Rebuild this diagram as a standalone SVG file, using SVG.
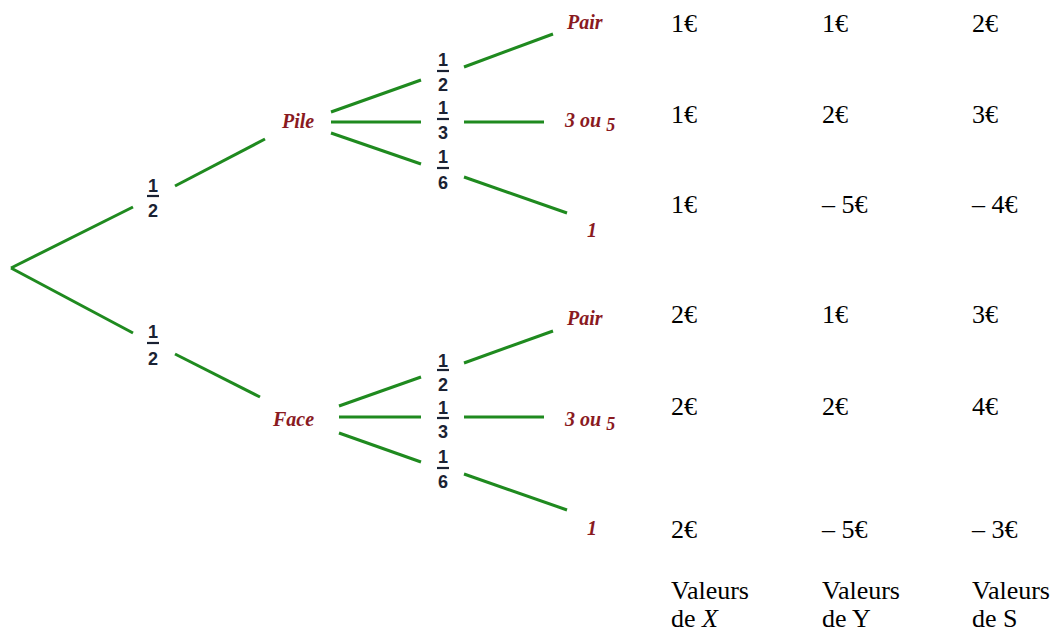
<svg xmlns="http://www.w3.org/2000/svg" width="1059" height="633" viewBox="0 0 1059 633">
<style>
.br{stroke:#1f8a1f;stroke-width:3;stroke-linecap:butt;fill:none}
.lbl{font-family:"Liberation Serif","Times New Roman",serif;font-weight:bold;font-style:italic;font-size:20px;fill:#8a1a1f}
.fr{font-family:"Liberation Sans",Arial,sans-serif;font-weight:bold;font-size:18px;fill:#1a2233;text-anchor:middle}
.bar{stroke:#1a2233;stroke-width:2.2}
.val{font-family:"Liberation Serif","Times New Roman",serif;font-size:26px;fill:#000}
</style>
<rect width="1059" height="633" fill="#fff"/>
<g id="connectors">
<line class="br" x1="11" y1="268" x2="133" y2="207"/>
<line class="br" x1="175" y1="186" x2="265" y2="139"/>
<line class="br" x1="11" y1="268" x2="133" y2="333"/>
<line class="br" x1="175" y1="354" x2="260" y2="397"/>
<line class="br" x1="331" y1="112" x2="421" y2="80"/>
<line class="br" x1="331" y1="122" x2="421" y2="122"/>
<line class="br" x1="331" y1="133" x2="421" y2="164"/>
<line class="br" x1="464" y1="67" x2="553" y2="34"/>
<line class="br" x1="464" y1="122" x2="544" y2="122"/>
<line class="br" x1="464" y1="177" x2="567" y2="213"/>
<line class="br" x1="339" y1="406" x2="421" y2="377"/>
<line class="br" x1="339" y1="417" x2="421" y2="417"/>
<line class="br" x1="339" y1="433" x2="421" y2="462"/>
<line class="br" x1="464" y1="363" x2="553" y2="331"/>
<line class="br" x1="464" y1="417" x2="544" y2="417"/>
<line class="br" x1="464" y1="474" x2="567" y2="510"/>
</g>
<g id="prob-root-up"><text class="fr" x="153" y="192">1</text><line class="bar" x1="147" y1="196" x2="159" y2="196"/><text class="fr" x="153" y="217">2</text></g>
<g id="prob-root-down"><text class="fr" x="153" y="338">1</text><line class="bar" x1="147" y1="343" x2="159" y2="343"/><text class="fr" x="153" y="365">2</text></g>
<g id="node-pile"><text class="lbl" x="282" y="128">Pile</text></g>
<g id="node-face"><text class="lbl" x="273" y="426">Face</text></g>
<g id="prob-pile-pair"><text class="fr" x="443" y="66">1</text><line class="bar" x1="437" y1="71" x2="449" y2="71"/><text class="fr" x="443" y="91">2</text></g>
<g id="prob-pile-35"><text class="fr" x="443" y="114">1</text><line class="bar" x1="437" y1="119" x2="449" y2="119"/><text class="fr" x="443" y="139">3</text></g>
<g id="prob-pile-1"><text class="fr" x="443" y="163">1</text><line class="bar" x1="437" y1="168" x2="449" y2="168"/><text class="fr" x="443" y="189">6</text></g>
<g id="prob-face-pair"><text class="fr" x="443" y="367">1</text><line class="bar" x1="437" y1="370" x2="449" y2="370"/><text class="fr" x="443" y="391">2</text></g>
<g id="prob-face-35"><text class="fr" x="443" y="414">1</text><line class="bar" x1="437" y1="418" x2="449" y2="418"/><text class="fr" x="443" y="438">3</text></g>
<g id="prob-face-1"><text class="fr" x="443" y="463">1</text><line class="bar" x1="437" y1="468" x2="449" y2="468"/><text class="fr" x="443" y="488">6</text></g>
<g id="node-pile-pair"><text class="lbl" x="567" y="29">Pair</text></g>
<g id="node-pile-35"><text class="lbl" x="565" y="127">3 ou <tspan dy="4" font-size="18">5</tspan></text></g>
<g id="node-pile-1"><text class="lbl" x="587" y="237">1</text></g>
<g id="node-face-pair"><text class="lbl" x="567" y="325">Pair</text></g>
<g id="node-face-35"><text class="lbl" x="565" y="426">3 ou <tspan dy="4" font-size="18">5</tspan></text></g>
<g id="node-face-1"><text class="lbl" x="587" y="535">1</text></g>
<g id="values">
<text class="val" x="671" y="32">1€</text><text class="val" x="822" y="32">1€</text><text class="val" x="972" y="32">2€</text>
<text class="val" x="671" y="123">1€</text><text class="val" x="822" y="123">2€</text><text class="val" x="972" y="123">3€</text>
<text class="val" x="671" y="213">1€</text><text class="val" x="822" y="213">– 5€</text><text class="val" x="972" y="213">– 4€</text>
<text class="val" x="671" y="323">2€</text><text class="val" x="822" y="323">1€</text><text class="val" x="972" y="323">3€</text>
<text class="val" x="671" y="415">2€</text><text class="val" x="822" y="415">2€</text><text class="val" x="972" y="415">4€</text>
<text class="val" x="671" y="538">2€</text><text class="val" x="822" y="538">– 5€</text><text class="val" x="972" y="538">– 3€</text>
<text class="val" x="671" y="599">Valeurs</text><text class="val" x="822" y="599">Valeurs</text><text class="val" x="972" y="599">Valeurs</text>
<text class="val" x="671" y="627">de <tspan font-style="italic">X</tspan></text><text class="val" x="822" y="627">de Y</text><text class="val" x="972" y="627">de S</text>
</g>
</svg>
